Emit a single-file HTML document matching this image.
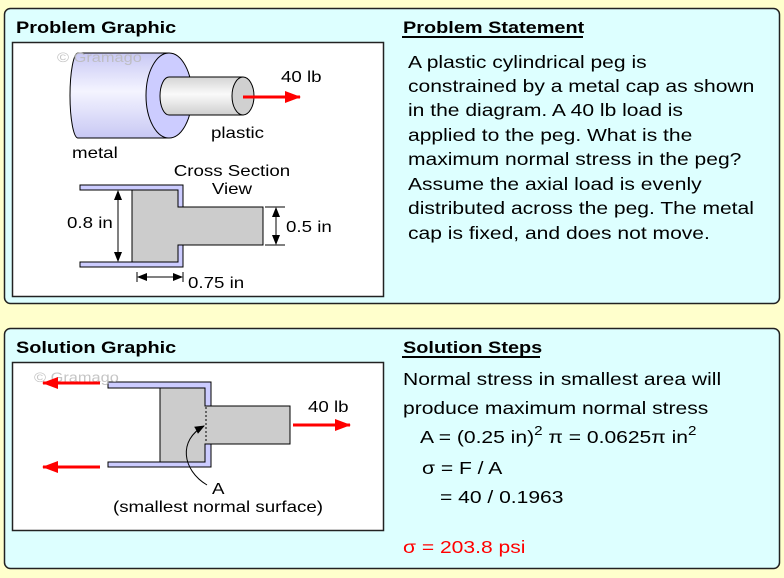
<!DOCTYPE html>
<html><head><style>
body{margin:0;background:#ffffcc;}
svg{display:block;font-family:"Liberation Sans",Arial,sans-serif;}
text{transform-box:fill-box;transform-origin:left center;transform:scaleX(1.17);}
text.c{transform-origin:center center;}
</style></head><body>
<svg width="784" height="578" viewBox="0 0 784 578" xmlns="http://www.w3.org/2000/svg">
<defs>
<linearGradient id="met" x1="0" y1="0" x2="0" y2="1">
<stop offset="0" stop-color="#c8c8f4"/><stop offset="0.45" stop-color="#f4f4ff"/><stop offset="1" stop-color="#c8c8f4"/></linearGradient>
<linearGradient id="pl" x1="0" y1="0" x2="0" y2="1">
<stop offset="0" stop-color="#d4d4d4"/><stop offset="0.45" stop-color="#fafafa"/><stop offset="1" stop-color="#cfcfcf"/></linearGradient>
<marker id="ar" markerWidth="10" markerHeight="8" refX="9" refY="4" orient="auto" markerUnits="userSpaceOnUse"><path d="M0,0 L10,4 L0,8 Z" fill="#000"/></marker>
<marker id="ra" markerWidth="16" markerHeight="12" refX="15" refY="6" orient="auto" markerUnits="userSpaceOnUse"><path d="M0,0 L16,6 L0,12 Z" fill="#ff0000"/></marker>
</defs>
<rect width="784" height="578" fill="#ffffcc"/>
<rect x="4.5" y="8.5" width="775" height="295" rx="6" fill="#ddffff" stroke="#222" stroke-width="1.5"/>
<rect x="4.5" y="328.5" width="775" height="240" rx="6" fill="#ddffff" stroke="#222" stroke-width="1.5"/>

<text x="16" y="33" font-size="17" font-weight="bold">Problem Graphic</text>
<text x="403" y="33" font-size="17" font-weight="bold">Problem Statement</text>
<line x1="402" y1="37" x2="583" y2="37" stroke="#000" stroke-width="2"/>
<text x="16" y="353" font-size="17" font-weight="bold">Solution Graphic</text>
<text x="403" y="353" font-size="17" font-weight="bold">Solution Steps</text>
<line x1="402" y1="357" x2="540" y2="357" stroke="#000" stroke-width="2"/>

<g font-size="18">
<text x="408" y="68">A plastic cylindrical peg is</text>
<text x="408" y="92">constrained by a metal cap as shown</text>
<text x="408" y="116">in the diagram. A 40 lb load is</text>
<text x="408" y="141">applied to the peg. What is the</text>
<text x="408" y="165">maximum normal stress in the peg?</text>
<text x="408" y="190">Assume the axial load is evenly</text>
<text x="408" y="214">distributed across the peg. The metal</text>
<text x="408" y="239">cap is fixed, and does not move.</text>

<text x="403" y="385">Normal stress in smallest area will</text>
<text x="403" y="414">produce maximum normal stress</text>
<text x="420" y="443">A = (0.25 in)<tspan font-size="13" dy="-8">2</tspan><tspan dy="8"> π = 0.0625π in</tspan><tspan font-size="13" dy="-8">2</tspan></text>
<text x="422" y="474">σ = F / A</text>
<text x="440" y="503">= 40 / 0.1963</text>
<text x="403" y="553" fill="#ff0000">σ = 203.8 psi</text>
</g>

<!-- top image box -->
<rect x="12.5" y="42.5" width="371" height="254" fill="#fff" stroke="#222" stroke-width="1.5"/>
<path d="M78,53 L169,53 L169,138 L78,138 A8,42.5 0 0 1 78,53 Z" fill="url(#met)" stroke="#000"/>
<ellipse cx="169" cy="95.5" rx="23" ry="42.5" fill="#ccccff" stroke="#000"/>
<path d="M169,77 L243,77 L243,115 L169,115 A9,19 0 0 1 169,77 Z" fill="url(#pl)" stroke="#000"/>
<ellipse cx="243" cy="96" rx="11" ry="19" fill="#d0d0d0" stroke="#000"/>
<text x="57" y="62" font-size="14" fill="#bbb" opacity="0.85">© Gramago</text>
<line x1="243" y1="97" x2="300" y2="97" stroke="#ff0000" stroke-width="3" marker-end="url(#ra)"/>
<text x="281" y="82" font-size="16">40 lb</text>
<text x="211" y="138" font-size="16">plastic</text>
<text x="72" y="158" font-size="16">metal</text>
<text class="c" x="232" y="176" font-size="16" text-anchor="middle">Cross Section</text>
<text class="c" x="232" y="194" font-size="16" text-anchor="middle">View</text>
<path d="M80,185 L183,185 L183,207 L178,207 L178,190 L80,190 Z" fill="#ccccff" stroke="#000"/>
<path d="M80,267 L183,267 L183,245 L178,245 L178,262 L80,262 Z" fill="#ccccff" stroke="#000"/>
<path d="M132,190 L178,190 L178,207 L263,207 L263,245 L178,245 L178,262 L132,262 Z" fill="#cccccc" stroke="#000"/>
<line x1="118" y1="226" x2="118" y2="191" stroke="#000" marker-end="url(#ar)"/>
<line x1="118" y1="226" x2="118" y2="261" stroke="#000" marker-end="url(#ar)"/>
<text x="67" y="228" font-size="16">0.8 in</text>
<line x1="265" y1="207" x2="285" y2="207" stroke="#000"/>
<line x1="265" y1="245" x2="285" y2="245" stroke="#000"/>
<line x1="276" y1="226" x2="276" y2="208" stroke="#000" marker-end="url(#ar)"/>
<line x1="276" y1="226" x2="276" y2="244" stroke="#000" marker-end="url(#ar)"/>
<text x="286" y="232" font-size="16">0.5 in</text>
<line x1="137" y1="272" x2="137" y2="282" stroke="#000"/>
<line x1="183" y1="272" x2="183" y2="282" stroke="#000"/>
<line x1="160" y1="277" x2="138" y2="277" stroke="#000" marker-end="url(#ar)"/>
<line x1="160" y1="277" x2="182" y2="277" stroke="#000" marker-end="url(#ar)"/>
<text x="188" y="288" font-size="16">0.75 in</text>

<!-- bottom image box -->
<rect x="12.5" y="362.5" width="371" height="168" fill="#fff" stroke="#222" stroke-width="1.5"/>
<path d="M108,382 L211,382 L211,406 L205,406 L205,388 L108,388 Z" fill="#ccccff" stroke="#000"/>
<path d="M108,467 L211,467 L211,444 L205,444 L205,462 L108,462 Z" fill="#ccccff" stroke="#000"/>
<path d="M160,388 L205,388 L205,406 L290,406 L290,444 L205,444 L205,462 L160,462 Z" fill="#cccccc" stroke="#000"/>
<line x1="206" y1="407" x2="206" y2="443" stroke="#000" stroke-dasharray="2,2"/>
<text x="34" y="382" font-size="14" fill="#bbb" opacity="0.85">© Gramago</text>
<line x1="100" y1="383" x2="43" y2="383" stroke="#ff0000" stroke-width="3" marker-end="url(#ra)"/>
<line x1="100" y1="467" x2="43" y2="467" stroke="#ff0000" stroke-width="3" marker-end="url(#ra)"/>
<line x1="293" y1="425" x2="350" y2="425" stroke="#ff0000" stroke-width="3" marker-end="url(#ra)"/>
<text x="308" y="412" font-size="16">40 lb</text>
<path d="M207,485 C182,470 178,440 204,426" fill="none" stroke="#000" marker-end="url(#ar)"/>
<text x="212" y="494" font-size="16">A</text>
<text class="c" x="218" y="512" font-size="16" text-anchor="middle">(smallest normal surface)</text>
</svg>
</body></html>
